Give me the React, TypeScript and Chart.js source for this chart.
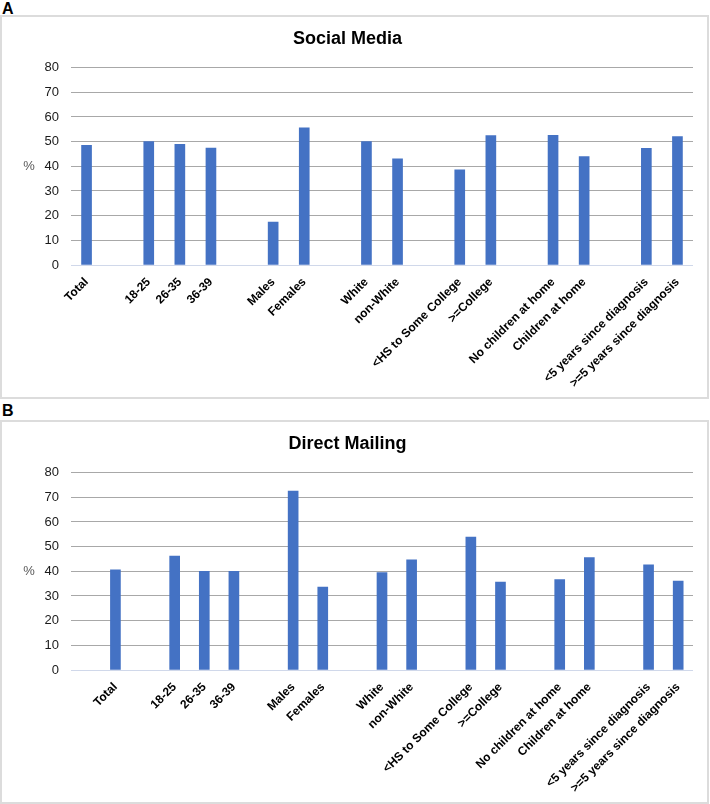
import React, { useEffect, useRef } from 'react';
import { Chart, registerables } from 'chart.js';

Chart.register(...registerables);

const FONT = "'Liberation Sans', Arial, Helvetica, sans-serif";

const categoriesA = [
  'Total', '',
  '18-25', '26-35', '36-39', '',
  'Males', 'Females', '',
  'White', 'non-White', '',
  '<HS to Some College', '>=College', '',
  'No children at home', 'Children at home', '',
  '<5 years since diagnosis', '>=5 years since diagnosis',
];
const socialMedia = [
  48.5, null,
  50.0, 48.9, 47.4, null,
  17.4, 55.6, null,
  50.0, 43.0, null,
  38.6, 52.4, null,
  52.6, 43.9, null,
  47.3, 52.0,
];

const categoriesB = [
  '', 'Total', '',
  '18-25', '26-35', '36-39', '',
  'Males', 'Females', '',
  'White', 'non-White', '',
  '<HS to Some College', '>=College', '',
  'No children at home', 'Children at home', '',
  '<5 years since diagnosis', '>=5 years since diagnosis',
];
const directMailing = [
  null, 40.6, null,
  46.2, 40.0, 40.0, null,
  72.5, 33.6, null,
  39.5, 44.6, null,
  53.9, 35.6, null,
  36.6, 45.6, null,
  42.6, 36.0,
];

const yMin = 0;
const yMax = 80;
const yStep = 10;

type PanelProps = { labels: string[]; values: (number | null)[]; title: string };

function Panel({ labels, values, title }: PanelProps) {
  const ref = useRef<HTMLCanvasElement | null>(null);
  useEffect(() => {
    const pctPlugin = {
      id: 'pctLabel',
      afterDraw(chart: any) {
        const { ctx, chartArea } = chart;
        ctx.save();
        ctx.font = `13px ${FONT}`;
        ctx.fillStyle = '#595959';
        ctx.textAlign = 'center';
        ctx.textBaseline = 'middle';
        ctx.fillText('%', 27, (chartArea.top + chartArea.bottom) / 2);
        ctx.restore();
      },
    };
    const chart = new Chart(ref.current as HTMLCanvasElement, {
      type: 'bar',
      data: {
        labels,
        datasets: [{ data: values as any, backgroundColor: '#4472C4', barThickness: 10 }],
      },
      options: {
        responsive: false,
        animation: false,
        devicePixelRatio: 1,
        layout: { padding: { left: 0, right: 14, top: 0, bottom: 0 } },
        plugins: {
          legend: { display: false },
          tooltip: { enabled: false },
          title: {
            display: true,
            text: title,
            color: '#000',
            font: { size: 18, weight: 'bold', family: FONT },
            padding: { top: 11, bottom: 18 },
          },
        },
        scales: {
          x: {
            grid: { display: false },
            border: { display: false },
            ticks: {
              autoSkip: false,
              maxRotation: 45,
              minRotation: 45,
              padding: 2,
              color: '#000',
              font: { size: 12, weight: 'bold', family: FONT },
            },
            afterFit: (s: any) => { s.height = 132; },
          },
          y: {
            min: yMin,
            max: yMax,
            grid: {
              color: (c: any) => (c.tick && c.tick.value === 0 ? '#d0d8ea' : '#a8a8a8'),
              drawTicks: false,
              lineWidth: 1,
            },
            border: { display: false },
            ticks: {
              stepSize: yStep,
              padding: 12,
              color: '#1a1a1a',
              font: { size: 13, family: FONT },
            },
            afterFit: (s: any) => { s.width = 69; },
          },
        },
      } as any,
      plugins: [pctPlugin],
    });
    return () => chart.destroy();
  }, []);
  return <canvas ref={ref} width={705} height={380} style={{ display: 'block' }} />;
}

export default function App() {
  useEffect(() => {
    document.body.style.margin = '0';
    document.body.style.background = '#fff';
  }, []);
  const letter: React.CSSProperties = {
    position: 'absolute',
    left: 2,
    fontFamily: FONT,
    fontWeight: 'bold',
    fontSize: 16,
    lineHeight: '18px',
    color: '#000',
  };
  const box: React.CSSProperties = {
    position: 'absolute',
    left: 0,
    width: 709,
    height: 384,
    boxSizing: 'border-box',
    border: '2px solid #dcdcdc',
    background: '#fff',
  };
  return (
    <div style={{ position: 'relative', width: 710, height: 804, background: '#fff', overflow: 'hidden' }}>
      <div style={{ ...letter, top: 0 }}>A</div>
      <div style={{ ...box, top: 15 }}>
        <Panel labels={categoriesA} values={socialMedia} title="Social Media" />
      </div>
      <div style={{ ...letter, top: 402 }}>B</div>
      <div style={{ ...box, top: 420 }}>
        <Panel labels={categoriesB} values={directMailing} title="Direct Mailing" />
      </div>
    </div>
  );
}
